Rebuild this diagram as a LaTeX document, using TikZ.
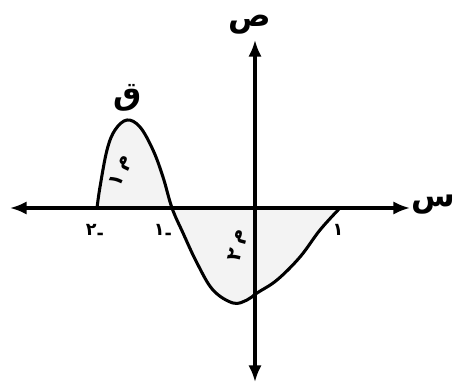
\documentclass[tikz,border=0pt]{standalone}
\usepackage{fontspec}
\usetikzlibrary{arrows.meta}
\TeXXeTstate=1
\newfontfamily\arabicfont[Script=Arabic]{DejaVu Sans}
\definecolor{areagray}{RGB}{243,243,243}

\begin{document}
\begin{tikzpicture}[x=1cm,y=1cm, line cap=round, line join=round]

\tikzset{
  axis/.style={line width=2.6pt, {Latex[length=0.5cm,width=0.4cm]}-{Latex[length=0.5cm,width=0.4cm]}},
  graph/.style={line width=2.6pt},
  letter/.style={font=\arabicfont\bfseries\fontsize{27}{30}\selectfont, inner sep=1pt},
  tick/.style={font=\arabicfont\bfseries\fontsize{15}{17}\selectfont, inner sep=1pt},
  region/.style={font=\arabicfont\bfseries\fontsize{17}{19}\selectfont, inner sep=1pt}
}

\useasboundingbox (-7.65,-5.31) rectangle (6.0,6.24);

% shaded areas
\fill[areagray] plot[smooth, tension=0.6] coordinates {(-4.74,0) (-4.65,0.63) (-4.44,1.74) (-4.2,2.34) (-3.84,2.64) (-3.45,2.43) (-3.06,1.74) (-2.76,0.93) (-2.49,0) (-2.16,-0.75) (-1.74,-1.65) (-1.26,-2.46) (-0.66,-2.85) (-0.24,-2.76) (0.06,-2.55) (0.66,-2.16) (1.35,-1.47) (1.95,-0.66) (2.55,0)} -- cycle;

% axes
\coordinate (xl) at (-7.35,0);
\coordinate (xr) at (4.65,0);
\coordinate (yt) at (0,5.04);
\coordinate (yb) at (0,-5.22);
\draw[axis] (xl) -- (xr);
\draw[axis] (yb) -- (yt);

% the curve
\draw[graph] plot[smooth, tension=0.6] coordinates {(-4.74,0) (-4.65,0.63) (-4.44,1.74) (-4.2,2.34) (-3.84,2.64) (-3.45,2.43) (-3.06,1.74) (-2.76,0.93) (-2.49,0) (-2.16,-0.75) (-1.74,-1.65) (-1.26,-2.46) (-0.66,-2.85) (-0.24,-2.76) (0.06,-2.55) (0.66,-2.16) (1.35,-1.47) (1.95,-0.66) (2.55,0)};

% labels
\node[letter] (q) at (-3.81,3.3) {\beginR ق\endR};
\node[letter] (ylab) at (-0.15,5.5) {\beginR ص\endR};
\node[letter] (xlab) at (5.35,0.09) {\beginR س\endR};

\node[tick] (m2) at (-4.8,-0.72) {٢\raisebox{-0.4ex}{-}};
\node[tick] (m1) at (-2.76,-0.72) {١\raisebox{-0.4ex}{-}};
\node[tick] (p1) at (2.49,-0.66) {١};

\node[region, rotate=65] (r1) at (-4.02,1.1) {\raisebox{-0.3ex}{١}\;م};
\node[region, rotate=75] (r2) at (-0.5,-1.11) {\raisebox{-0.3ex}{٢}\;م};

\end{tikzpicture}
\end{document}
